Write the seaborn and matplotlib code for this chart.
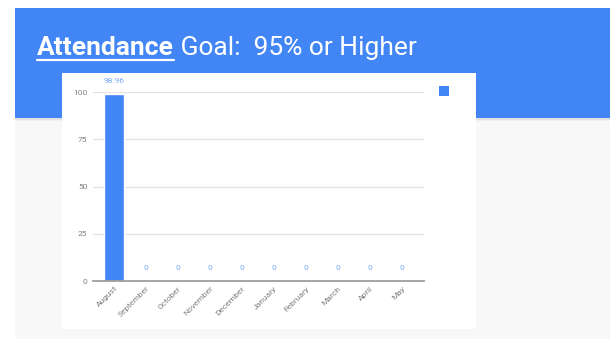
import matplotlib
matplotlib.use("Agg")
import matplotlib.pyplot as plt
import seaborn as sns
import pandas as pd
from matplotlib.patches import Rectangle, Patch
from matplotlib.lines import Line2D

months = ["August", "September", "October", "November", "December",
          "January", "February", "March", "April", "May"]
attendance = [98.96, 0, 0, 0, 0, 0, 0, 0, 0, 0]
y_ticks = [0, 25, 50, 75, 100]
title_bold = "Attendance"
title_rest = " Goal:  95% or Higher"

BLUE = "#4285F4"
W, H = 610, 339

sns.set_theme(style="white")
plt.rcParams["font.family"] = ["Roboto", "DejaVu Sans"]

fig = plt.figure(figsize=(W / 100, H / 100), dpi=100)
fig.patch.set_facecolor("white")


def box(x0, y0, x1, y1):
    """pixel box (top-left origin) -> figure fraction rect"""
    return (x0 / W, 1 - y1 / H), (x1 - x0) / W, (y1 - y0) / H


def add_rect(x0, y0, x1, y1, color, z=0):
    xy, w, h = box(x0, y0, x1, y1)
    fig.patches.append(Rectangle(xy, w, h, transform=fig.transFigure,
                                 facecolor=color, edgecolor="none", zorder=z))


# slide background
add_rect(15, 118, W, H, "#f8f8f8", 0)
# header shadow
add_rect(15, 118, W, 120, "#e3e3e3", 0.5)
add_rect(15, 120, W, 121, "#efefef", 0.5)
# blue header
add_rect(15, 8, W, 118, BLUE, 1)
# white chart card
add_rect(62, 73, 476, 329, "white", 2)

# title
t1 = fig.text(37 / W, 1 - 55 / H, title_bold, color="white", fontsize=19,
              fontweight="bold", ha="left", va="baseline", zorder=3)
fig.canvas.draw()
r = fig.canvas.get_renderer()
bb = t1.get_window_extent(renderer=r)
x_end = bb.x1
fig.text(x_end / W, 1 - 55 / H, title_rest, color="white", fontsize=19,
         ha="left", va="baseline", zorder=3)
fig.add_artist(Line2D([bb.x0 / W, bb.x1 / W], [1 - 59.5 / H, 1 - 59.5 / H],
                      transform=fig.transFigure, color="white", lw=1.6, zorder=3))

# chart axes
ax = fig.add_axes([93 / W, 1 - 281 / H, 331 / W, 189 / H])
ax.set_zorder(4)
ax.patch.set_alpha(0)
df = pd.DataFrame({"month": months, "attendance": attendance})
sns.barplot(data=df, x="month", y="attendance", color=BLUE, saturation=1,
            width=0.64, ax=ax, zorder=3)
ax.set_xlim(-0.66, 9.69)
ax.set_ylim(0, 100)
ax.set_yticks(y_ticks)
ax.set_yticklabels([str(v) for v in y_ticks])
ax.set_xlabel("")
ax.set_ylabel("")
ax.grid(axis="y", color="#e3e3e3", lw=0.9, zorder=0)
for s in ["top", "right", "left"]:
    ax.spines[s].set_visible(False)
ax.spines["bottom"].set_color("#9e9e9e")
ax.spines["bottom"].set_linewidth(1.3)
ax.spines["bottom"].set_zorder(5)
ax.tick_params(axis="y", length=0, pad=4, labelsize=6, labelcolor="#808080")
ax.tick_params(axis="x", length=0, pad=3, labelsize=6, labelcolor="#808080")
for lab in ax.get_xticklabels():
    lab.set_rotation(45)
    lab.set_ha("right")
    lab.set_rotation_mode("anchor")

for i, v in enumerate(attendance):
    ax.annotate(f"{v:g}", xy=(i, v), xytext=(0, 9.5), textcoords="offset points",
                ha="center", va="center", fontsize=6, color="#7baaf7",
                annotation_clip=False)

# legend square
leg = fig.legend(handles=[Patch(facecolor=BLUE, edgecolor="none")], labels=[""],
                 loc="center left", bbox_to_anchor=(433 / W, 1 - 91.5 / H),
                 frameon=False, handlelength=0.9, handleheight=0.9,
                 fontsize=8, handletextpad=0, borderpad=0)
leg.set_zorder(6)

fig.savefig("out.png", dpi=100)
